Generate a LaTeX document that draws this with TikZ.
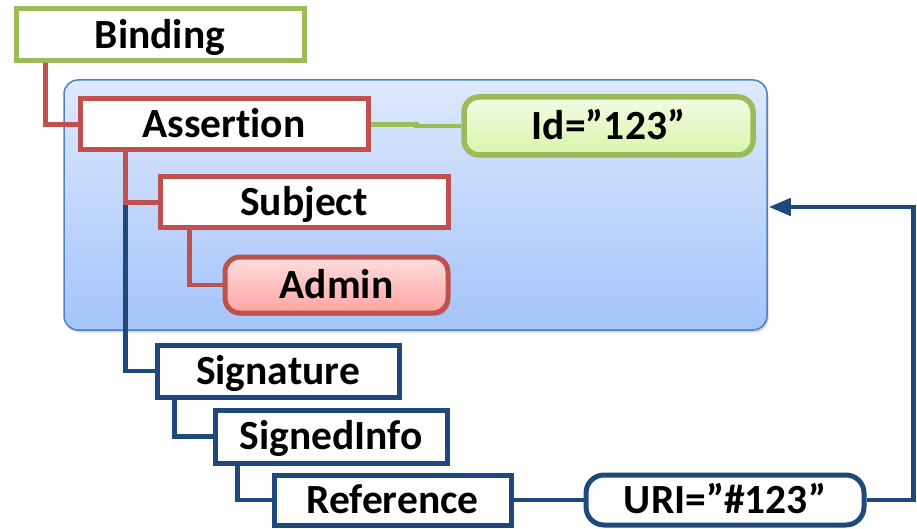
\documentclass[tikz,border=0pt]{standalone}
\usepackage{fontspec}
\setmainfont{Carlito}[Ligatures=NoCommon]
\usetikzlibrary{arrows.meta,shadows}
\definecolor{cgreen}{HTML}{9BBB59}
\definecolor{cred}{HTML}{C0504D}
\definecolor{cblue}{HTML}{1F497D}
\definecolor{cframe}{HTML}{4F81BD}
\pgfdeclarelayer{bgzero}
\pgfdeclarelayer{bgone}
\pgfsetlayers{bgzero,bgone,main}
\begin{document}
\begin{tikzpicture}[x=1pt,y=-1pt,
  every node/.style={font=\fontsize{41.5}{44}\selectfont\bfseries, text height=26.5pt, text depth=0pt, inner sep=0pt},
  frame/.style={draw=cframe, line width=1.5pt, rounded corners=14pt,
    top color={rgb,255:red,222;green,233;blue,253}, bottom color={rgb,255:red,164;green,196;blue,250},
    drop shadow={opacity=0.3, shadow xshift=1.5pt, shadow yshift=-2.5pt}},
  gbox/.style={draw=cgreen, line width=5pt, fill=white},
  rbox/.style={draw=cred, line width=5pt, fill=white},
  bbox/.style={draw=cblue, line width=5pt, fill=white},
  idbox/.style={draw=cgreen, line width=5.5pt, rounded corners=15pt,
    top color={rgb,255:red,243;green,251;blue,228}, bottom color={rgb,255:red,216;green,245;blue,170},
    drop shadow={opacity=0.35, shadow xshift=2pt, shadow yshift=-2.5pt}},
  adminbox/.style={draw=cred, line width=5pt, rounded corners=15pt,
    top color={rgb,255:red,255;green,222;blue,222}, bottom color={rgb,255:red,255;green,163;blue,163},
    drop shadow={opacity=0.45, shadow xshift=2pt, shadow yshift=-3pt}},
  uribox/.style={draw=cblue, line width=5pt, rounded corners=18pt, fill=white},
  rline/.style={draw=cred, line width=4.5pt},
  gline/.style={draw=cgreen, line width=4.5pt},
  bline/.style={draw=cblue, line width=4.5pt},
]
\useasboundingbox (0,0) rectangle (917,529);

% nodes
\node[gbox, minimum width=288pt, minimum height=52pt] (binding) at (160,35) {Binding};
\node[rbox, minimum width=288pt, minimum height=51pt] (assertion) at (224,124.5) {Assertion};
\node[rbox, minimum width=288pt, minimum height=51pt] (subject) at (304,202.5) {Subject};
\node[adminbox, minimum width=223pt, minimum height=56pt] (admin) at (336.5,285) {Admin};
\node[idbox, minimum width=289pt, minimum height=58pt] (id) at (608.5,126) {Id=”123”};
\node[bbox, minimum width=242pt, minimum height=52pt] (signature) at (278,371) {Signature};
\node[bbox, minimum width=232pt, minimum height=53pt] (signedinfo) at (331,436.5) {SignedInfo};
\node[bbox, minimum width=237pt, minimum height=50pt] (reference) at (392.5,500) {Reference};
\node[uribox, minimum width=278pt, minimum height=50pt] (uri) at (725,500) {URI=”\#123”};

% container
\begin{pgfonlayer}{bgzero}
\node[frame, minimum width=703pt, minimum height=250pt] (container) at (415.5,205) {};
\end{pgfonlayer}

% connectors
\begin{pgfonlayer}{bgone}
\draw[bline] ([xshift=48pt]assertion.south west) |- (signature.west);
\draw[rline] ([xshift=48pt]assertion.south west) |- (subject.west);
\draw[rline] ([xshift=32pt]binding.south west) |- (assertion.west);
\draw[rline] ([xshift=32pt]subject.south west) |- (admin.west);
\draw[gline] (assertion.east) -- ([xshift=46pt]assertion.east) |- (id.west);
\draw[bline] ([xshift=20pt]signature.south west) |- (signedinfo.west);
\draw[bline] ([xshift=25pt]signedinfo.south west) |- (reference.west);
\draw[bline] (reference.east) -- (uri.west);
\draw[bline, -{Triangle[length=22pt, width=17pt]}] (uri.east) -- ([xshift=47pt]uri.east) |- ([yshift=-2pt, xshift=1pt]container.east);
\end{pgfonlayer}
\end{tikzpicture}
\end{document}
